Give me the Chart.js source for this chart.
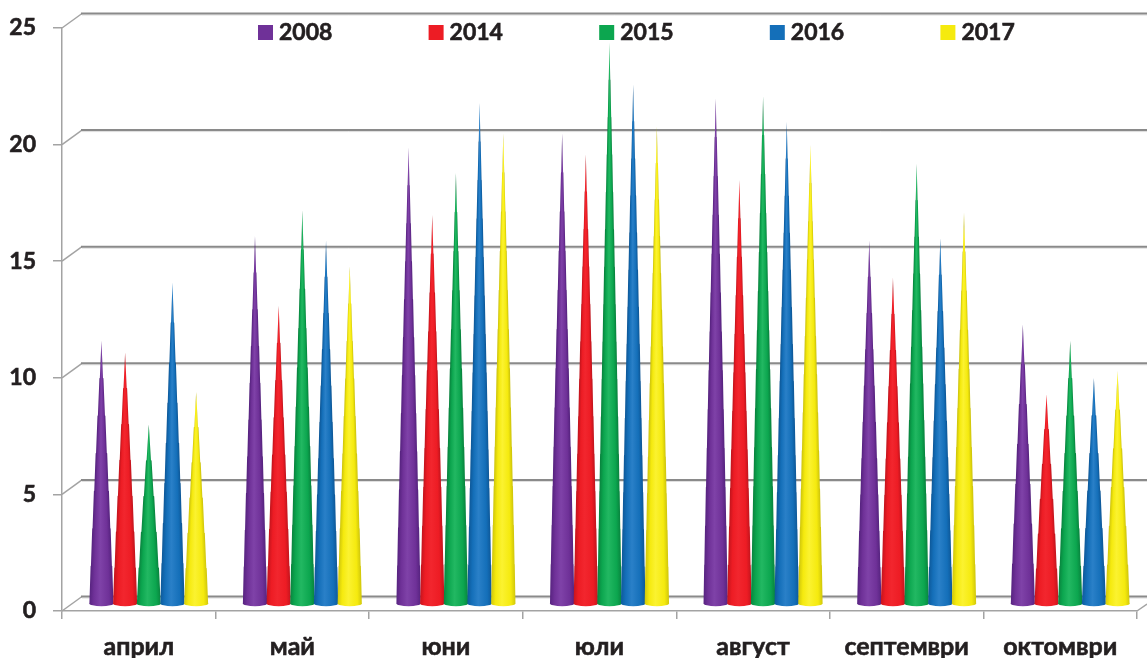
<!DOCTYPE html>
<html>
<head>
<meta charset="utf-8">
<style>
  html, body { margin: 0; padding: 0; background: #fff; }
  canvas { display: block; }
</style>
<script src="https://cdn.jsdelivr.net/npm/chart.js@4/dist/chart.umd.min.js"></script>
</head>
<body>
<canvas id="grafik" width="1147" height="658"></canvas>
<script>
const meseci = ['април', 'май', 'юни', 'юли', 'август', 'септември', 'октомври'];
const godini = ['2008', '2014', '2015', '2016', '2017'];

const v2008 = [11.3, 15.8, 19.6, 20.2, 21.7, 15.6, 12.0];
const v2014 = [10.8, 12.8, 16.7, 19.3, 18.2, 14.0, 9.0];
const v2015 = [7.7, 16.9, 18.5, 24.1, 21.8, 18.9, 11.3];
const v2016 = [13.8, 15.6, 21.5, 22.3, 20.7, 15.7, 9.7];
const v2017 = [9.1, 14.5, 20.2, 20.5, 19.7, 16.8, 10.0];

const yTicks = [0, 5, 10, 15, 20, 25];

// main, dark edge, highlight
const cvetove = [
    ['#6f3198', '#4f1f78', '#7f42a8'],
    ['#ed1c24', '#b8121b', '#f2262e'],
    ['#0ca64f', '#077a39', '#22b862'],
    ['#146fb9', '#0c5290', '#2a80c8'],
    ['#f5ea0e', '#c4bb0a', '#fbf230']
];

const tekst = '#231f20';
const shrift = 'Lato, sans-serif';
const dalbochinaX = 20;
const dalbochinaY = 14.5;
const stapalo = 38;

// zadna stena i liniite na mrezhata
const stena = {
    id: 'stena',
    beforeDatasetsDraw(chart) {
        const { ctx, chartArea, scales } = chart;
        ctx.save();
        yTicks.forEach(t => {
            const y = scales.y.getPixelForValue(t);
            ctx.strokeStyle = '#a3a3a3';
            ctx.lineWidth = 1.5;
            ctx.beginPath();
            ctx.moveTo(chartArea.left, y);
            ctx.lineTo(chartArea.left + dalbochinaX, y - dalbochinaY);
            ctx.stroke();

            ctx.strokeStyle = '#dcdcdc';
            ctx.lineWidth = 1;
            ctx.beginPath();
            ctx.moveTo(chartArea.left + dalbochinaX, y - dalbochinaY + 1.5);
            ctx.lineTo(1147, y - dalbochinaY + 1.5);
            ctx.stroke();

            ctx.strokeStyle = '#8a8a8a';
            ctx.lineWidth = 2;
            ctx.beginPath();
            ctx.moveTo(chartArea.left + dalbochinaX - 1, y - dalbochinaY);
            ctx.lineTo(1147, y - dalbochinaY);
            ctx.stroke();
        });
        // dolniyat desen ugal
        ctx.strokeStyle = '#a3a3a3';
        ctx.lineWidth = 1.5;
        ctx.beginPath();
        ctx.moveTo(chartArea.right, chartArea.bottom);
        ctx.lineTo(1147, chartArea.bottom - 7);
        ctx.stroke();
        ctx.restore();
    }
};

// konusite se risuvat varhu pozitsiite na stalbovete ot Chart.js
const konusi = {
    id: 'konusi',
    afterDatasetsDraw(chart) {
        const ctx = chart.ctx;
        chart.data.datasets.forEach((ds, i) => {
            const [osnoven, tamen, svetal] = cvetove[i];
            chart.getDatasetMeta(i).data.forEach(bar => {
                const x = bar.x + dalbochinaX / 2;
                const vrah = bar.y - 7;
                const osnova = bar.base - 7;
                const r = bar.width / 2 + 0.5;
                const h = osnova - vrah;
                const ugal = Math.atan2(r, h) * 1.12;
                const obhvat = 2 * ugal / (2 * Math.PI);

                const grad = ctx.createConicGradient(Math.PI / 2 - ugal, x, vrah);
                grad.addColorStop(0, tamen);
                grad.addColorStop(obhvat * 0.22, osnoven);
                grad.addColorStop(obhvat * 0.55, svetal);
                grad.addColorStop(obhvat * 0.78, osnoven);
                grad.addColorStop(obhvat, tamen);

                // leko stapalovidna i izpakната silueta, kakto pri originala
                const shirina = t => r * t * (1 + 0.16 * (1 - t));
                const n = Math.max(2, Math.round(h / stapalo));
                const tochki = [];
                for (let k = 0; k < n; k++) {
                    const t0 = k / n;
                    const t1 = (k + 1) / n;
                    tochki.push([t0 + 0.001, shirina(t0)]);
                    tochki.push([t1, shirina(t0 + (t1 - t0) * 0.78)]);
                }
                ctx.save();
                ctx.fillStyle = grad;
                ctx.beginPath();
                ctx.moveTo(x, vrah);
                tochki.forEach(p => ctx.lineTo(x + p[1], vrah + p[0] * h));
                ctx.lineTo(x + r, osnova);
                ctx.ellipse(x, osnova, r, 3, 0, 0, Math.PI);
                for (let k = tochki.length - 1; k >= 0; k--) {
                    ctx.lineTo(x - tochki[k][1], vrah + tochki[k][0] * h);
                }
                ctx.closePath();
                ctx.fill();
                ctx.restore();
            });
        });
    }
};

// legendata e s fiksirani pozitsii kato v originala
const legenda = {
    id: 'legenda',
    afterDraw(chart) {
        const ctx = chart.ctx;
        ctx.save();
        ctx.font = '700 23px ' + shrift;
        ctx.textBaseline = 'middle';
        ctx.lineWidth = 0.6;
        godini.forEach((g, i) => {
            const x = 258 + i * 170.6;
            ctx.fillStyle = cvetove[i][0];
            ctx.fillRect(x, 25, 15, 15);
            ctx.fillStyle = tekst;
            ctx.strokeStyle = tekst;
            ctx.fillText(g, x + 21, 32.5);
            ctx.strokeText(g, x + 21, 32.5);
        });
        ctx.restore();
    }
};

const serii = [v2008, v2014, v2015, v2016, v2017];

new Chart(document.getElementById('grafik').getContext('2d'), {
    type: 'bar',
    data: {
        labels: meseci,
        datasets: serii.map((s, i) => ({
            label: godini[i],
            data: s,
            backgroundColor: 'rgba(0,0,0,0)',
            borderWidth: 0,
            categoryPercentage: 0.771,
            barPercentage: 1
        }))
    },
    options: {
        responsive: false,
        animation: false,
        layout: { padding: { top: 28, right: 10, left: 0, bottom: 0 } },
        plugins: {
            legend: { display: false },
            tooltip: { enabled: false }
        },
        scales: {
            x: {
                afterFit(scale) { scale.height = 47; },
                border: { color: '#a3a3a3', width: 1.5 },
                grid: { drawOnChartArea: false, color: '#a3a3a3', lineWidth: 1.5, tickLength: 8 },
                ticks: { color: tekst, textStrokeColor: tekst, textStrokeWidth: 0.6, padding: 13, maxRotation: 0, font: { family: shrift, weight: '700', size: 25 } }
            },
            y: {
                min: 0,
                max: 25,
                afterFit(scale) {
                    scale.width = 62;
                    scale.paddingTop = 0;
                    scale.paddingBottom = 0;
                },
                border: { color: '#a3a3a3', width: 1.5 },
                grid: { drawOnChartArea: false, color: '#a3a3a3', lineWidth: 1.5, tickLength: 9 },
                ticks: { stepSize: 5, color: tekst, textStrokeColor: tekst, textStrokeWidth: 0.6, padding: 17, font: { family: shrift, weight: '700', size: 23 } }
            }
        }
    },
    plugins: [stena, konusi, legenda]
});
</script>
</body>
</html>
